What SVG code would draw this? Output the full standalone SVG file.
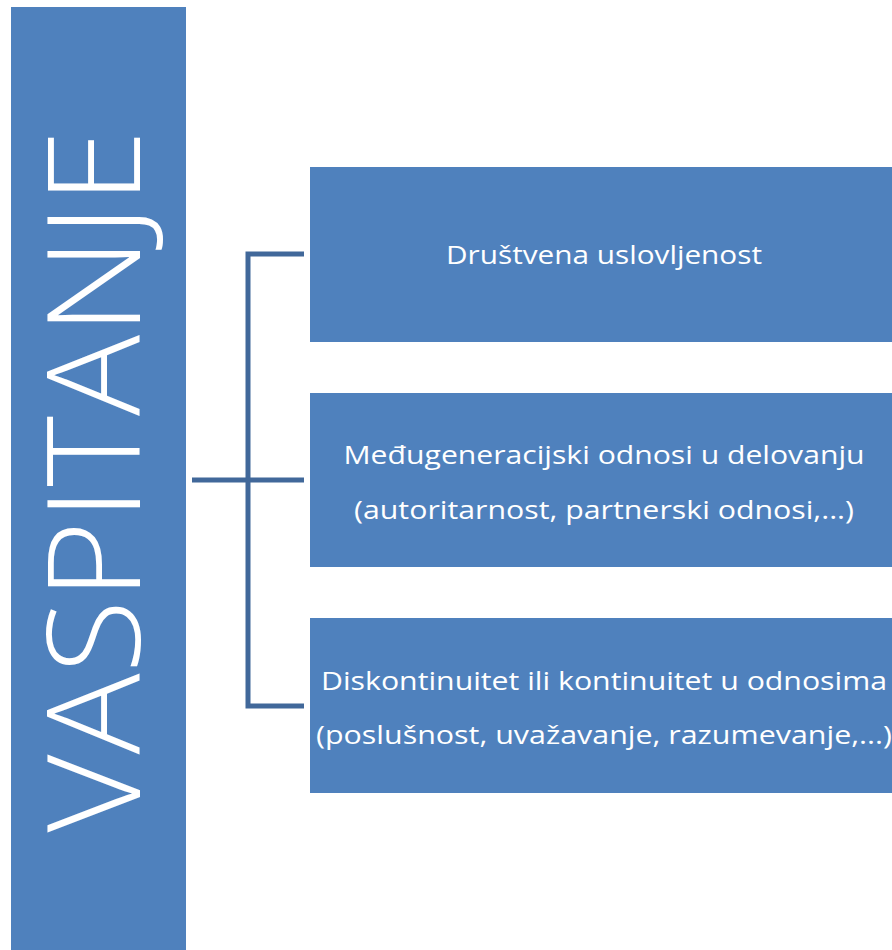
<svg xmlns="http://www.w3.org/2000/svg" width="892" height="950" viewBox="0 0 892 950">
<style>
.box{fill:#4F81BD;}
.t{fill:#FFFFFF;font-family:"Open Sans","Noto Sans","Liberation Sans",sans-serif;font-size:26px;text-anchor:middle;}
.big{fill:#FFFFFF;font-family:"Open Sans","Noto Sans","Liberation Sans",sans-serif;font-weight:350;font-size:130px;text-anchor:middle;}
.c{fill:none;stroke:#41689A;stroke-width:5;stroke-linejoin:miter;}
</style>
<rect width="892" height="950" fill="#FFFFFF"/>
<g id="vaspitanje">
<rect class="box" x="11" y="7" width="175" height="950"/>
<text class="big" transform="translate(140,481) rotate(-90)" x="0" y="0" textLength="703" lengthAdjust="spacingAndGlyphs">VASPITANJE</text>
</g>
<g id="connectors">
<path class="c" d="M192,480 H304"/>
<path class="c" d="M304,254 H248 V706 H304"/>
</g>
<g id="n1">
<rect class="box" x="310" y="167" width="590" height="175"/>
<text class="t" x="604" y="264" textLength="316" lengthAdjust="spacingAndGlyphs">Društvena uslovljenost</text>
</g>
<g id="n2">
<rect class="box" x="310" y="393" width="590" height="174"/>
<text class="t" x="604" y="464" textLength="521" lengthAdjust="spacingAndGlyphs">Međugeneracijski odnosi u delovanju</text>
<text class="t" x="604" y="519" textLength="500" lengthAdjust="spacingAndGlyphs">(autoritarnost, partnerski odnosi,...)</text>
</g>
<g id="n3">
<rect class="box" x="310" y="618" width="590" height="175"/>
<text class="t" x="604" y="690" textLength="566" lengthAdjust="spacingAndGlyphs">Diskontinuitet ili kontinuitet u odnosima</text>
<text class="t" x="604" y="744" textLength="576" lengthAdjust="spacingAndGlyphs">(poslušnost, uvažavanje, razumevanje,...)</text>
</g>
</svg>
